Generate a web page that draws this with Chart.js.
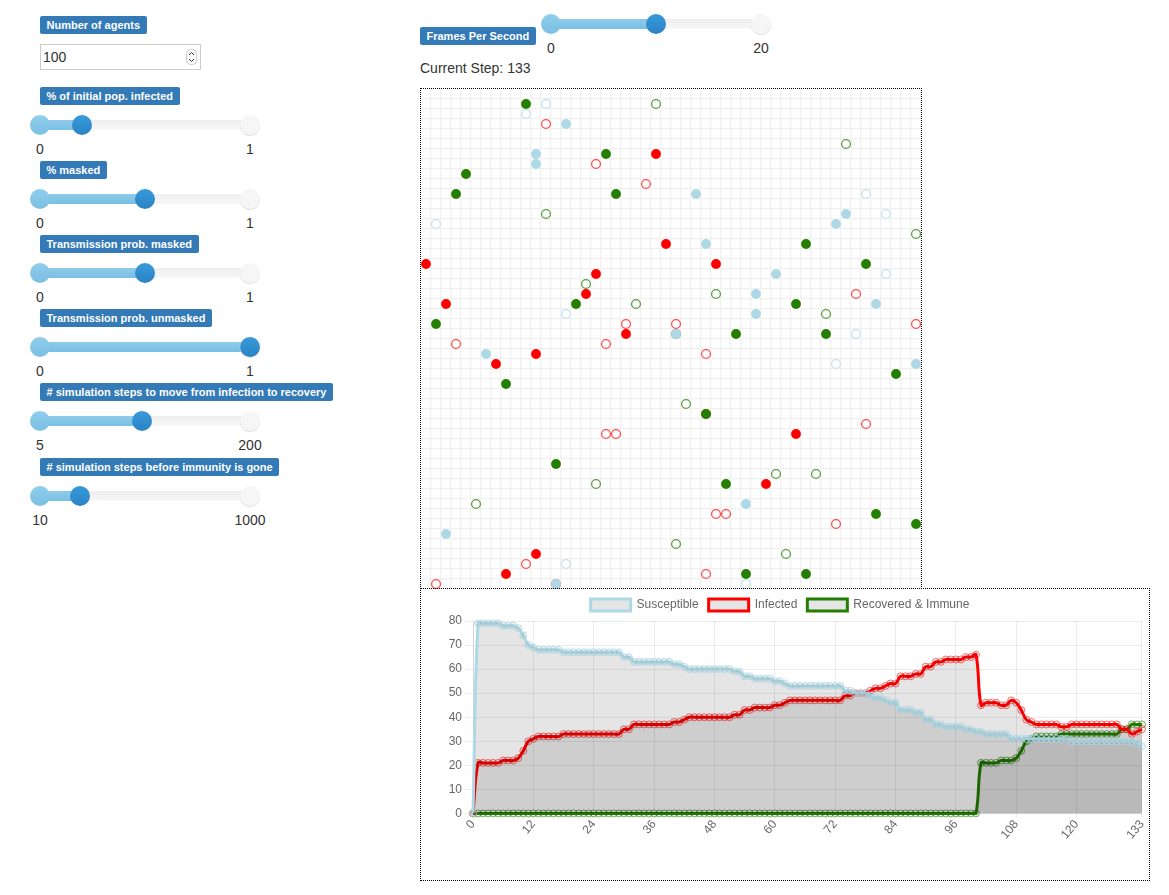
<!DOCTYPE html>
<html>
<head>
<meta charset="utf-8">
<title>Agent simulation</title>
<script src="https://cdn.jsdelivr.net/npm/chart.js@4"></script>
<style>
    body { margin: 0; background: #fff; font-family: "Liberation Sans", Arial, sans-serif; color: #333; font-size: 14px; }
    .abs { position: absolute; }
    .badge { position: absolute; height: 18px; line-height: 18px; background: #337ab7; color: #fff; font-size: 11px; font-weight: bold; padding: 0 6.5px; border-radius: 2px; white-space: nowrap; }
    .track { position: absolute; height: 10px; margin-top: -5px; background: linear-gradient(#eeeeee, #f8f8f8); }
    .bar { position: absolute; height: 10px; margin-top: -5px; background: linear-gradient(#8fcbea, #78bfe4); }
    .handle { position: absolute; width: 20px; height: 20px; margin: -10px 0 0 -10px; border-radius: 50%; }
    .h-min { background: linear-gradient(#8fcdec, #7bbfe3); }
    .h-val { background: linear-gradient(#379ada, #2b83c4); }
    .h-max { background: #f6f6f6; box-shadow: 0 1px 1px #ddd; }
    .tick { position: absolute; transform: translate(-50%, -50%); white-space: nowrap; }
    #numInput { position: absolute; left: 40px; top: 44px; width: 159px; height: 24px; line-height: 25px; border: 1px solid #ccc; text-indent: 2px; }
    #spin { position: absolute; left: 145px; top: 4px; }
    #gridBox { position: absolute; left: 420px; top: 88px; width: 500px; height: 499px; border: 1px dotted #000; }
    #chartBox { position: absolute; left: 420px; top: 588px; width: 728px; height: 291px; border: 1px dotted #000; }
    canvas { display: block; }
</style>
</head>
<body>
<div class="badge" style="left:40px;top:16px">Number of agents</div>
<div id="numInput">100<svg id="spin" width="11" height="16"><rect x="0.5" y="0.5" width="10" height="15" rx="4" fill="#fff" stroke="#ccc"/><path d="M3 6 L5.5 3.5 L8 6 M3 10 L5.5 12.5 L8 10" fill="none" stroke="#333"/></svg></div>
<div id="controls"></div>
<div class="abs" style="left:420px;top:60px">Current Step: 133</div>

<div id="gridBox"><canvas id="world" width="500" height="500"></canvas></div>
<div id="chartBox"><canvas id="chart" width="732" height="291"></canvas></div>

<script>
// Slider panel
const sliderNames = ["% of initial pop. infected", "% masked", "Transmission prob. masked", "Transmission prob. unmasked", "# simulation steps to move from infection to recovery", "# simulation steps before immunity is gone"];
const sliderMin = [0, 0, 0, 0, 5, 10];
const sliderMax = [1, 1, 1, 1, 200, 1000];
const sliderValue = [0.2, 0.5, 0.5, 1, 100, 200];

// Agents on the world grid as [column, row]
const susceptibleFilled = [[14,3],[11,6],[11,7],[27,10],[42,12],[41,13],[28,15],[35,18],[33,20],[45,21],[33,22],[25,24],[6,26],[49,27],[32,41],[2,44],[13,49]];
const susceptibleHollow = [[12,1],[10,2],[44,10],[46,12],[1,13],[46,18],[14,22],[43,24],[41,27],[14,47],[32,49]];
const infectedFilled = [[23,6],[24,15],[0,17],[29,17],[17,18],[16,20],[2,21],[20,24],[11,26],[7,27],[37,34],[34,39],[11,46],[8,48]];
const infectedHollow = [[12,3],[17,7],[22,9],[20,23],[25,23],[49,23],[43,20],[3,25],[18,25],[28,26],[28,32],[44,33],[18,34],[19,34],[29,42],[30,42],[41,43],[10,47],[28,48],[1,49],[13,49]];
const recoveredFilled = [[10,1],[18,6],[4,8],[3,10],[19,10],[38,15],[44,17],[15,21],[37,21],[1,23],[31,24],[40,24],[47,28],[8,29],[28,32],[13,37],[30,39],[45,42],[49,43],[32,48],[38,48]];
const recoveredHollow = [[23,1],[42,5],[12,12],[49,14],[16,19],[29,20],[21,21],[40,22],[25,24],[26,31],[35,38],[39,38],[17,39],[5,41],[25,45],[36,46]];

// Chart series, one value per simulation step 0..133
const susceptible = [0,79,79,79,79,79,78,78,78,77,74,70,69,68,68,68,68,68,67,67,67,67,67,67,67,67,67,67,67,67,65,65,63,63,63,63,63,63,63,63,62,62,61,60,60,60,60,60,60,60,60,60,59,59,57,57,56,56,56,56,55,55,54,53,53,53,53,53,53,53,53,53,53,53,51,51,50,50,50,49,48,48,47,46,46,43,43,43,42,42,39,39,37,37,36,36,36,36,35,35,34,34,33,33,33,33,33,31,31,31,31,31,31,31,31,31,31,31,31,30,30,30,30,30,30,30,30,30,30,30,30,30,29,28];
const infected = [0,21,21,21,21,21,22,22,22,23,26,30,31,32,32,32,32,32,33,33,33,33,33,33,33,33,33,33,33,33,35,35,37,37,37,37,37,37,37,37,38,38,39,40,40,40,40,40,40,40,40,40,41,41,43,43,44,44,44,44,45,45,46,47,47,47,47,47,47,47,47,47,47,47,49,49,50,50,50,51,52,52,53,54,54,57,57,57,58,58,61,61,63,63,64,64,64,64,65,65,66,45,46,46,46,45,45,47,46,43,39,38,37,37,37,37,37,36,36,37,37,37,37,37,37,37,37,37,37,35,35,33,34,35];
const recovered = [0,0,0,0,0,0,0,0,0,0,0,0,0,0,0,0,0,0,0,0,0,0,0,0,0,0,0,0,0,0,0,0,0,0,0,0,0,0,0,0,0,0,0,0,0,0,0,0,0,0,0,0,0,0,0,0,0,0,0,0,0,0,0,0,0,0,0,0,0,0,0,0,0,0,0,0,0,0,0,0,0,0,0,0,0,0,0,0,0,0,0,0,0,0,0,0,0,0,0,0,0,21,21,21,21,22,22,22,23,26,30,31,32,32,32,32,32,33,33,33,33,33,33,33,33,33,33,33,33,35,35,37,37,37];
const xTickSteps = [0,12,24,36,48,60,72,84,96,108,120,133];

const LIGHTBLUE = "#add8e6";
const RED = "#ff0000";
const GREEN = "#247f00";

// Add one slider to the panel
function addSlider(parent, left, width, y, fraction, minLabel, maxLabel) {
    const x = left + width * fraction;
    const html =
        `<div class="track" style="left:${left}px;top:${y}px;width:${width}px"></div>` +
        `<div class="bar" style="left:${left}px;top:${y}px;width:${x - left}px"></div>` +
        `<div class="handle h-min" style="left:${left}px;top:${y}px"></div>` +
        `<div class="handle h-max" style="left:${left + width}px;top:${y}px"></div>` +
        `<div class="handle h-val" style="left:${x}px;top:${y}px"></div>` +
        `<div class="tick" style="left:${left}px;top:${y + 24}px">${minLabel}</div>` +
        `<div class="tick" style="left:${left + width}px;top:${y + 24}px">${maxLabel}</div>`;
    parent.insertAdjacentHTML("beforeend", html);
}

const controls = document.getElementById("controls");
sliderNames.forEach((name, i) => {
    const rowY = i < 5 ? 87 + i * 74 : 458;
    const fraction = (sliderValue[i] - sliderMin[i]) / (sliderMax[i] - sliderMin[i]);
    controls.insertAdjacentHTML("beforeend", `<div class="badge" style="left:40px;top:${rowY}px">${name}</div>`);
    addSlider(controls, 40, 210, rowY + 38, fraction, sliderMin[i], sliderMax[i]);
});
controls.insertAdjacentHTML("beforeend", `<div class="badge" style="left:420px;top:27px">Frames Per Second</div>`);
addSlider(controls, 551, 210, 24, 0.5, 0, 20);

// World grid
function toCells(list) {
    return list.map((cell) => ({ x: cell[0] + 0.5, y: cell[1] + 0.5 }));
}

function agentLayer(list, color, filled) {
    return {
        data: toCells(list),
        showLine: false,
        clip: false,
        pointRadius: filled ? 4.9 : 4.4,
        pointBorderWidth: filled ? 0 : 1.3,
        pointBorderColor: color,
        pointBackgroundColor: filled ? color : "#ffffff",
    };
}

const worldAxis = {
    min: 0,
    max: 50,
    border: { display: false },
    grid: { color: "#f0f0f0", lineWidth: 1.3, drawTicks: false },
    ticks: { display: false, stepSize: 1, autoSkip: false, maxTicksLimit: 60 },
};

new Chart(document.getElementById("world"), {
    type: "scatter",
    data: {
        datasets: [
            agentLayer(recoveredFilled, GREEN, true),
            agentLayer(susceptibleFilled, LIGHTBLUE, true),
            agentLayer(infectedFilled, RED, true),
            agentLayer(recoveredHollow, "rgba(36,127,0,0.75)", false),
            agentLayer(infectedHollow, "rgba(255,0,0,0.7)", false),
            agentLayer(susceptibleHollow, "rgba(173,216,230,0.7)", false),
        ],
    },
    options: {
        responsive: false,
        animation: false,
        plugins: { legend: { display: false }, tooltip: { enabled: false } },
        layout: { padding: 0, autoPadding: false },
        scales: {
            x: worldAxis,
            y: { ...worldAxis, reverse: true },
        },
    },
});

// History chart
function series(label, values, color, pointColor) {
    return {
        label: label,
        data: values,
        clip: 8,
        borderColor: color,
        borderWidth: 3,
        backgroundColor: "rgba(0,0,0,0.1)",
        pointBackgroundColor: "rgba(0,0,0,0.05)",
        pointBorderColor: pointColor,
        pointBorderWidth: 1,
        pointRadius: 3.5,
        tension: 0.4,
        fill: "origin",
    };
}

new Chart(document.getElementById("chart"), {
    type: "line",
    data: {
        labels: susceptible.map((v, step) => step),
        datasets: [
            series("Susceptible", susceptible, LIGHTBLUE, "rgba(173,216,230,0.85)"),
            series("Infected", infected, RED, "rgba(255,0,0,0.55)"),
            series("Recovered & Immune", recovered, GREEN, "rgba(36,127,0,0.6)"),
        ],
    },
    options: {
        responsive: false,
        animation: false,
        layout: { autoPadding: false, padding: { left: -14, right: 0, top: 0, bottom: 38 } },
        plugins: {
            tooltip: { enabled: false },
            legend: { labels: { boxWidth: 40, boxHeight: 12, color: "#666", font: { family: "Liberation Sans", size: 12 } } },
        },
        scales: {
            x: {
                grid: { color: "rgba(0,0,0,0.08)", tickLength: 4 },
                afterBuildTicks: (scale) => { scale.ticks = xTickSteps.map((step) => ({ value: step })); },
                ticks: { autoSkip: false, padding: 0, color: "#666", minRotation: 50, maxRotation: 50, font: { family: "Liberation Sans", size: 12 } },
            },
            y: {
                min: 0,
                max: 80,
                afterFit: (scale) => { scale.width = 66; },
                grid: { color: "rgba(0,0,0,0.08)" },
                ticks: { stepSize: 10, color: "#666", font: { family: "Liberation Sans", size: 12 } },
            },
        },
    },
});
</script>
</body>
</html>
